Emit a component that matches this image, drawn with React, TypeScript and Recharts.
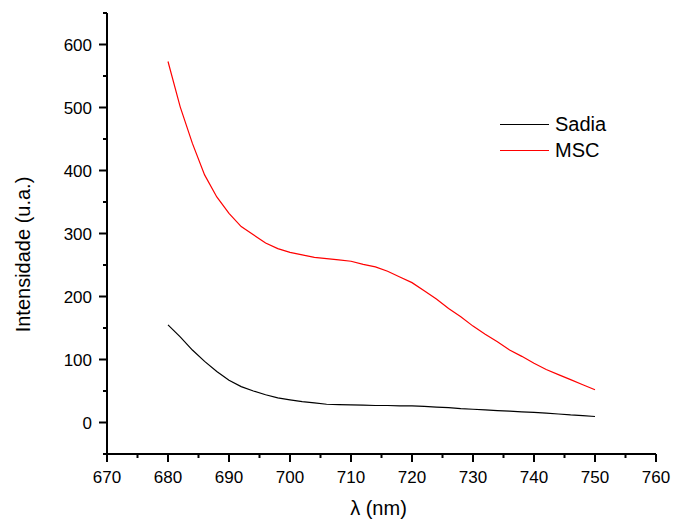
import { LineChart, Line, XAxis, YAxis, Legend, Label } from 'recharts'

const LAMBDA = [
  680, 682, 684, 686, 688, 690, 692, 694, 696, 698, 700, 702, 704, 706, 708, 710, 712, 714,
  716, 718, 720, 722, 724, 726, 728, 730, 732, 734, 736, 738, 740, 742, 744, 746, 748, 750,
]
const SADIA = [
  155, 136, 115, 97, 81, 67, 57, 50, 44, 39, 36, 33, 31, 29, 28.5, 28, 27.5, 27,
  27, 26.5, 26.5, 25.5, 24.5, 23.5, 22, 21, 20, 19, 18, 17, 16, 15, 13.5, 12, 11, 9.5,
]
const MSC = [
  573, 501, 443, 393, 358, 332, 311, 298, 285, 276, 270, 266, 262, 260, 258, 256, 251, 247,
  240, 231, 222, 209, 196, 181, 168, 153, 140, 128, 115, 105, 94, 84, 76, 68, 60, 52,
]

const SERIES_ORDER = ['Sadia', 'MSC']
const X_TICKS = [670, 675, 680, 685, 690, 695, 700, 705, 710, 715, 720, 725, 730, 735, 740, 745, 750, 755, 760]
const Y_TICKS = [-50, 0, 50, 100, 150, 200, 250, 300, 350, 400, 450, 500, 550, 600, 650]

const data = LAMBDA.map((l, i) => ({ l, sadia: SADIA[i], msc: MSC[i] }))

const FONT = '"Liberation Sans", Arial, sans-serif'

function XTick(props: any) {
  const { x, y, payload } = props
  const major = payload.value % 10 === 0
  return (
    <g>
      <line x1={x} x2={x} y1={y} y2={y + (major ? 8 : 4)} stroke="#000" strokeWidth={2} />
      {major && (
        <text x={x} y={y + 29} textAnchor="middle" fontSize={17} fontFamily={FONT} fill="#000">
          {payload.value}
        </text>
      )}
    </g>
  )
}

function YTick(props: any) {
  const { x, y, payload } = props
  const major = payload.value % 100 === 0
  return (
    <g>
      <line x1={x - (major ? 8 : 4)} x2={x} y1={y} y2={y} stroke="#000" strokeWidth={2} />
      {major && (
        <text x={x - 15} y={y + 6} textAnchor="end" fontSize={17} fontFamily={FONT} fill="#000">
          {payload.value}
        </text>
      )}
    </g>
  )
}

function LegendBox(props: any) {
  const items = [...(props.payload || [])].sort(
    (a: any, b: any) => SERIES_ORDER.indexOf(a.value) - SERIES_ORDER.indexOf(b.value)
  )
  return (
    <div style={{ fontFamily: FONT, fontSize: 20 }}>
      {items.map((it: any) => (
        <div key={it.value} style={{ display: 'flex', alignItems: 'center', height: 26 }}>
          <div style={{ width: 49, height: 0, borderTop: `1.5px solid ${it.color}`, marginRight: 6 }} />
          <span style={{ color: '#000' }}>{it.value}</span>
        </div>
      ))}
    </div>
  )
}

export default function App() {
  return (
    <div style={{ position: 'absolute', left: 0, top: 0, background: '#fff' }}>
      <LineChart width={673} height={521} data={data} margin={{ top: 13, right: 17, bottom: 0, left: 0 }}>
        <XAxis
          dataKey="l"
          type="number"
          domain={[670, 760]}
          ticks={X_TICKS}
          interval={0}
          height={67}
          tickSize={0}
          tickMargin={0}
          tickLine={false}
          axisLine={{ stroke: '#000', strokeWidth: 2 }}
          tick={(p: any) => <XTick {...p} />}
        >
          <Label
            content={(p: any) => {
              const vb = p.viewBox
              return (
                <text x={vb.x + vb.width / 2 - 3} y={vb.y + 61} textAnchor="middle" fontSize={20} fontFamily={FONT} fill="#000">
                  λ (nm)
                </text>
              )
            }}
          />
        </XAxis>
        <YAxis
          type="number"
          domain={[-50, 650]}
          ticks={Y_TICKS}
          interval={0}
          width={107}
          tickSize={0}
          tickMargin={0}
          tickLine={false}
          axisLine={{ stroke: '#000', strokeWidth: 2 }}
          tick={(p: any) => <YTick {...p} />}
        >
          <Label
            content={(p: any) => {
              const vb = p.viewBox
              const cx = vb.x + 30
              const cy = vb.y + vb.height / 2 + 21
              return (
                <text
                  x={cx}
                  y={cy}
                  transform={`rotate(-90 ${cx} ${cy})`}
                  textAnchor="middle"
                  fontSize={20}
                  fontFamily={FONT}
                  fill="#000"
                >
                  Intensidade (u.a.)
                </text>
              )
            }}
          />
        </YAxis>
        <Legend
          layout="horizontal"
          verticalAlign="middle"
          align="center"
          itemSorter={null as any}
          content={(p: any) => <LegendBox {...p} />}
          wrapperStyle={{ position: 'absolute', left: 500, top: 111, width: 'auto' }}
        />
        <Line dataKey="sadia" name="Sadia" stroke="#000000" strokeWidth={1.2} dot={false} isAnimationActive={false} type="linear" />
        <Line dataKey="msc" name="MSC" stroke="#ff0000" strokeWidth={1.2} dot={false} isAnimationActive={false} type="linear" />
      </LineChart>
    </div>
  )
}
